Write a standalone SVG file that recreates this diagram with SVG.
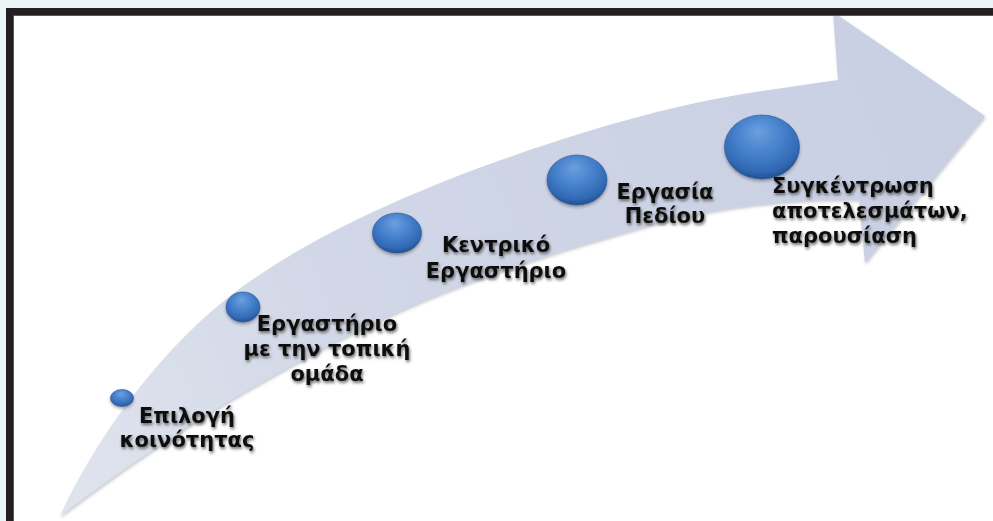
<svg xmlns="http://www.w3.org/2000/svg" width="993" height="521" viewBox="0 0 993 521">
  <defs>
    <linearGradient id="arrowGrad" gradientUnits="userSpaceOnUse" x1="60" y1="516" x2="985" y2="116">
      <stop offset="0" stop-color="#e0e4ee"/>
      <stop offset="0.35" stop-color="#d1d7e7"/>
      <stop offset="1" stop-color="#c8cfe3"/>
    </linearGradient>
    <radialGradient id="ballGrad" cx="48%" cy="36%" r="64%" fx="45%" fy="25%">
      <stop offset="0" stop-color="#6c9fe0"/>
      <stop offset="0.5" stop-color="#4580cb"/>
      <stop offset="0.85" stop-color="#3168b3"/>
      <stop offset="1" stop-color="#22508f"/>
    </radialGradient>
    <filter id="arrowShadow" x="-5%" y="-5%" width="110%" height="115%">
      <feDropShadow dx="1" dy="2" stdDeviation="1.5" flood-color="#8a8f99" flood-opacity="0.45"/>
    </filter>
    <filter id="ballShadow" x="-30%" y="-30%" width="160%" height="170%">
      <feDropShadow dx="0" dy="2" stdDeviation="1.5" flood-color="#223" flood-opacity="0.4"/>
    </filter>
    <filter id="textShadow" x="-10%" y="-30%" width="120%" height="160%">
      <feGaussianBlur in="SourceAlpha" stdDeviation="1.5" result="b"/>
      <feOffset in="b" dx="1.2" dy="1.5" result="o"/>
      <feFlood flood-color="#505050" flood-opacity="0.85"/>
      <feComposite in2="o" operator="in" result="s"/>
      <feMerge>
        <feMergeNode in="s"/>
        <feMergeNode in="SourceGraphic"/>
      </feMerge>
    </filter>
  </defs>
  <style>
    .lbl { font-family: "DejaVu Sans", Verdana, sans-serif; font-weight: bold; font-size: 21px; fill: #111111; filter: url(#textShadow); }
    .mid { text-anchor: middle; }
    .ball { fill: url(#ballGrad); stroke: #2a5593; stroke-width: 0.6; filter: url(#ballShadow); }
  </style>

  <!-- page background and frame -->
  <rect x="0" y="0" width="993" height="521" fill="#eaf5f7"/>
  <rect x="13" y="15" width="980" height="506" fill="#ffffff"/>

  <g id="arrow">
    <path d="M60,516 C90,450 150,360 225,300 S420,185 560,140 S760,92 838,80 L833,12 L985,116 L865,263 L859,200 C800,198 720,205 640,228 S450,282 330,345 S150,450 60,516 Z" fill="url(#arrowGrad)" filter="url(#arrowShadow)"/>
  </g>

  <g id="frame">
    <rect x="6" y="8" width="987" height="7" fill="#231f20"/>
    <rect x="6" y="8" width="7" height="513" fill="#231f20"/>
    <line x1="13" y1="15.5" x2="993" y2="15.5" stroke="#5a5657" stroke-width="1"/>
    <line x1="13.5" y1="15" x2="13.5" y2="521" stroke="#5a5657" stroke-width="1"/>
  </g>

  <g id="node1">
    <ellipse class="ball" cx="122" cy="398" rx="11.5" ry="8.5"/>
    <text class="lbl mid" x="187" y="423">Επιλογή</text>
    <text class="lbl mid" x="187" y="447">κοινότητας</text>
  </g>
  <g id="node2">
    <ellipse class="ball" cx="243" cy="307" rx="17" ry="15"/>
    <text class="lbl mid" x="327" y="331">Εργαστήριο</text>
    <text class="lbl mid" x="327" y="356">με την τοπική</text>
    <text class="lbl mid" x="327" y="381">ομάδα</text>
  </g>
  <g id="node3">
    <ellipse class="ball" cx="397" cy="233" rx="24.5" ry="20"/>
    <text class="lbl mid" x="496" y="252">Κεντρικό</text>
    <text class="lbl mid" x="496" y="278">Εργαστήριο</text>
  </g>
  <g id="node4">
    <ellipse class="ball" cx="577" cy="180" rx="30" ry="25"/>
    <text class="lbl mid" x="665" y="199">Εργασία</text>
    <text class="lbl mid" x="665" y="223">Πεδίου</text>
  </g>
  <g id="node5">
    <ellipse class="ball" cx="762" cy="147" rx="37.5" ry="32"/>
    <text class="lbl" x="772" y="193">Συγκέντρωση</text>
    <text class="lbl" x="772" y="218">αποτελεσμάτων,</text>
    <text class="lbl" x="772" y="243">παρουσίαση</text>
  </g>
</svg>
